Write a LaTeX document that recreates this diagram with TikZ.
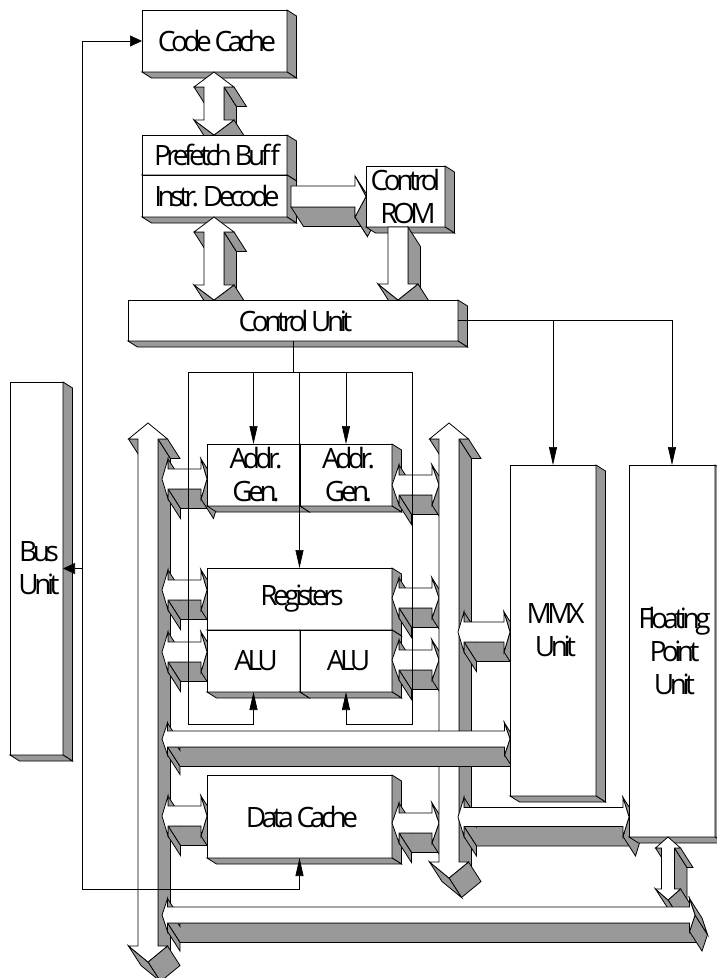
\documentclass[tikz,border=0pt]{standalone}
\usepackage{fontspec}
\setmainfont[LetterSpace=-16]{Open Sans}
\usetikzlibrary{arrows.meta,calc}
\definecolor{BlockGray}{HTML}{999999}
\newcommand{\nudge}{\hspace*{5pt}}
\newcommand{\unitdepth}[1]{%
    \draw[wallface] (#1.north east) -- ++(9.5,6) -- ([shift={(9.5,6)}]#1.south east) -- (#1.south east) -- cycle;
    \draw[wallface] (#1.south west) -- ++(9.5,6) -- ([shift={(9.5,6)}]#1.south east) -- (#1.south east) -- cycle;}
\newcommand{\wall}[2]{\draw[wallface] (#1) -- (#2) -- ++(12.5,19.5) -- ([shift={(12.5,19.5)}]#1) -- cycle;}
\newcommand{\arrowspan}[2]{\path (#1); \pgfgetlastxy{\xa}{\ya} \path (#2); \pgfgetlastxy{\xb}{\yb}}
\newcommand{\hdouble}[6]{%
    \arrowspan{#1}{#2}
    \wall{\xa+#6,#3+#4}{\xb-#6,#3+#4}
    \wall{\xa+#6,#3-#5}{\xa+#6,#3-#4}
    \wall{\xa+#6,#3+#4}{\xa+#6,#3+#5}
    \wall{\xb-#6,#3+#5}{\xb,#3}
    \wall{\xb,#3}{\xb-#6,#3-#5}
    \draw[bodyface] (\xa,#3) -- (\xa+#6,#3-#5) -- (\xa+#6,#3-#4) -- (\xb-#6,#3-#4) -- (\xb-#6,#3-#5) -- (\xb,#3)
        -- (\xb-#6,#3+#5) -- (\xb-#6,#3+#4) -- (\xa+#6,#3+#4) -- (\xa+#6,#3+#5) -- cycle;}
\newcommand{\hsingle}[6]{%
    \arrowspan{#1}{#2}
    \wall{\xa,#3+#4}{\xb-#6,#3+#4}
    \wall{\xb-#6,#3+#4}{\xb-#6,#3+#5}
    \wall{\xb-#6,#3+#5}{\xb,#3}
    \wall{\xb,#3}{\xb-#6,#3-#5}
    \draw[bodyface] (\xa,#3-#4) -- (\xb-#6,#3-#4) -- (\xb-#6,#3-#5) -- (\xb,#3)
        -- (\xb-#6,#3+#5) -- (\xb-#6,#3+#4) -- (\xa,#3+#4) -- cycle;}
\newcommand{\vdouble}[6]{%
    \arrowspan{#1}{#2}
    \wall{#3+#4,\ya-#6}{#3+#4,\yb+#6}
    \wall{#3+#5,\ya-#6}{#3+#4,\ya-#6}
    \wall{#3-#5,\ya-#6}{#3-#4,\ya-#6}
    \wall{#3+#5,\yb+#6}{#3,\yb}
    \wall{#3,\yb}{#3-#5,\yb+#6}
    \draw[bodyface] (#3,\ya) -- (#3+#5,\ya-#6) -- (#3+#4,\ya-#6) -- (#3+#4,\yb+#6) -- (#3+#5,\yb+#6) -- (#3,\yb)
        -- (#3-#5,\yb+#6) -- (#3-#4,\yb+#6) -- (#3-#4,\ya-#6) -- (#3-#5,\ya-#6) -- cycle;}
\newcommand{\vsingle}[6]{%
    \arrowspan{#1}{#2}
    \wall{#3+#4,\ya}{#3+#4,\yb+#6}
    \wall{#3+#5,\yb+#6}{#3,\yb}
    \wall{#3,\yb}{#3-#5,\yb+#6}
    \draw[bodyface] (#3+#4,\ya) -- (#3+#4,\yb+#6) -- (#3+#5,\yb+#6) -- (#3,\yb)
        -- (#3-#5,\yb+#6) -- (#3-#4,\yb+#6) -- (#3-#4,\ya) -- cycle;}
\tikzset{wallface/.style={draw=black,line width=0.8pt,fill=BlockGray,line join=miter},
    bodyface/.style={draw=black,line width=0.8pt,fill=white}}
\begin{document}
\begin{tikzpicture}[x=1pt,y=-1pt,every node/.style={font=\fontsize{28}{33}\selectfont,align=center,inner sep=0pt,outer sep=0pt},
    unit/.style={draw=black,line width=0.8pt,fill=white,anchor=north west},
    wire/.style={draw=black,line width=0.7pt},
    bigtip/.style={-{Triangle[length=18pt,width=8pt]}},
    smalltip/.style={-{Triangle[length=12pt,width=11pt]}}]
    \useasboundingbox (0,0) rectangle (716,978);
    \node[unit,minimum width=53pt,minimum height=373pt] (bus) at (10,382) {\nudge Bus\\\nudge Unit};
    \unitdepth{bus}
    \node[unit,minimum width=145pt,minimum height=62pt] (code) at (142,10) {\nudge Code Cache};
    \unitdepth{code}
    \coordinate (prefin) at (214,135);
    \vdouble{code.south}{prefin}{214}{10}{20}{15}
    \node[unit,minimum width=145pt,minimum height=40pt] (prefetch) at (142,135) {\nudge Prefetch Buff};
    \unitdepth{prefetch}
    \node[unit,minimum width=145pt,minimum height=42pt] (decode) at (142,175) {\nudge Instr. Decode};
    \unitdepth{decode}
    \coordinate (romin) at (366,196);
    \hsingle{[xshift=4pt]decode.east}{romin}{196.5}{10.5}{20.5}{11}
    \node[unit,minimum width=79pt,minimum height=61pt] (rom) at (366,166) {Control\\\nudge ROM};
    \unitdepth{rom}
    \coordinate (ctrlina) at (214,300);
    \coordinate (ctrlinb) at (398,300);
    \vdouble{decode.south}{ctrlina}{214}{10}{20}{15}
    \vsingle{rom.south}{ctrlinb}{398}{10}{20}{16}
    \node[unit,minimum width=330pt,minimum height=41pt] (ctrl) at (128,300) {\nudge Control Unit};
    \unitdepth{ctrl}
    \coordinate (lbustop) at (148,423);
    \coordinate (lbusend) at (148,962);
    \coordinate (rbustop) at (449,423);
    \coordinate (rbusend) at (449,878);
    \coordinate (lbus) at (162,0);
    \coordinate (lgate) at (207,0);
    \coordinate (rgate) at (392,0);
    \coordinate (rbus) at (439,0);
    \coordinate (mmxbus) at (458,0);
    \vdouble{lbustop}{lbusend}{148}{10}{19.5}{16}
    \foreach \y in {479,590,652,816}{\hdouble{lbus}{lgate}{\y}{10}{20}{6}}
    \node[unit,minimum width=93pt,minimum height=62pt] (addra) at (207,444) {\nudge Addr.\\\nudge Gen.};
    \unitdepth{addra}
    \node[unit,minimum width=92pt,minimum height=62pt] (addrb) at (300,444) {\nudge Addr.\\\nudge Gen.};
    \unitdepth{addrb}
    \node[unit,minimum width=185pt,minimum height=62pt] (regs) at (207,568) {\nudge Registers};
    \unitdepth{regs}
    \node[unit,minimum width=93pt,minimum height=62pt] (alua) at (207,630) {\nudge ALU};
    \unitdepth{alua}
    \node[unit,minimum width=92pt,minimum height=62pt] (alub) at (300,630) {\nudge ALU};
    \unitdepth{alub}
    \node[unit,minimum width=185pt,minimum height=83pt] (data) at (207,775) {\nudge Data Cache};
    \unitdepth{data}
    \foreach \y in {485,598,660,823}{\hdouble{rgate}{rbus}{\y}{10}{20}{7}}
    \vdouble{rbustop}{rbusend}{449}{10}{19.5}{16}
    \coordinate (mmxgate) at (510,0);
    \coordinate (fpugate) at (629,0);
    \hdouble{mmxbus}{mmxgate}{632}{10}{20}{6}
    \hdouble{mmxbus}{fpugate}{817}{9.5}{19.5}{6}
    \hdouble{lbus}{mmxgate}{739}{8}{16}{5.5}
    \node[unit,minimum width=86pt,minimum height=331pt] (mmx) at (510,465) {\nudge MMX\\\nudge Unit};
    \unitdepth{mmx}
    \node[unit,minimum width=86pt,minimum height=372pt] (fpu) at (629,465) {\nudge Floating\\\nudge Point\\\nudge Unit};
    \unitdepth{fpu}
    \coordinate (fpuout) at (668,900);
    \coordinate (botend) at (695,0);
    \vdouble{fpu.south -| fpuout}{fpuout}{668}{6.5}{12.5}{11}
    \hdouble{lbus}{botend}{915}{8}{16.5}{5.5}
    \coordinate (hub) at (293,372);
    \coordinate (tapl) at (188,372);
    \coordinate (tapr) at (412,372);
    \coordinate (lowl) at (188,724);
    \coordinate (lowr) at (412,724);
    \coordinate (ringt) at (82,42);
    \coordinate (ringb) at (82,889);
    \draw[wire] (ctrl.south -| hub) -- (hub);
    \draw[wire] (tapl) -- (tapr);
    \foreach \x in {addra,addrb,regs}{\draw[wire,bigtip] (tapl -| \x) -- (\x.north);}
    \draw[wire,bigtip] (tapl) -- (lowl) -| (alua.south);
    \draw[wire,bigtip] (tapr) -- (lowr) -| (alub.south);
    \draw[wire,bigtip] (ctrl.east) -| (mmx.north);
    \draw[wire,bigtip] (ctrl.east) -| (fpu.north);
    \draw[wire,smalltip] (ringb) -- (ringt |- code.west) -- (code.west);
    \draw[wire,bigtip] (ringb) -| (data.south);
    \draw[wire,smalltip] (ringt |- bus.east) -- (bus.east);
\end{tikzpicture}
\end{document}
